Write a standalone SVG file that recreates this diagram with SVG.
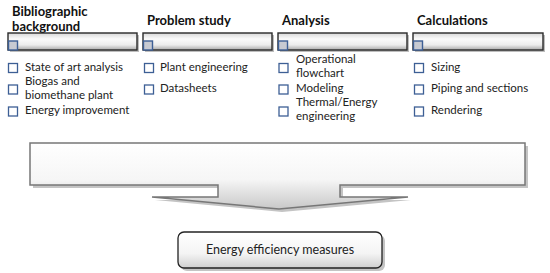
<svg xmlns="http://www.w3.org/2000/svg" width="550" height="273" viewBox="0 0 550 273">
<defs>
<linearGradient id="barG" x1="0" y1="0" x2="0" y2="1">
<stop offset="0" stop-color="#d8d8d8"/>
<stop offset="0.35" stop-color="#fafafa"/>
<stop offset="0.7" stop-color="#ececec"/>
<stop offset="1" stop-color="#a8a8a8"/>
</linearGradient>
<linearGradient id="bigG" x1="0" y1="0" x2="0" y2="1">
<stop offset="0" stop-color="#ffffff"/>
<stop offset="0.55" stop-color="#f6f6f6"/>
<stop offset="1" stop-color="#c8c8c8"/>
</linearGradient>
<linearGradient id="boxG" x1="0" y1="0" x2="0" y2="1">
<stop offset="0" stop-color="#ffffff"/>
<stop offset="0.6" stop-color="#f4f4f4"/>
<stop offset="1" stop-color="#cfcfcf"/>
</linearGradient>
</defs>
<style>
.h{font-family:Lato,"Liberation Sans",sans-serif;font-weight:bold;font-size:13px;fill:#111}
.t{font-family:Lato,"Liberation Sans",sans-serif;font-size:11.5px;fill:#222}
.bar{fill:url(#barG);stroke:#2a2a2a;stroke-width:1.4}
.sh{fill:#bdbdbd}
.mk{fill:#c7cad2;stroke:#3d5f95;stroke-width:1.4}
.cb{fill:#fff;stroke:#3d5f95;stroke-width:1.3}
.big{fill:url(#bigG);stroke:#777;stroke-width:1.5}
.box{fill:url(#boxG);stroke:#222;stroke-width:1.3}
</style>

<g id="col1">
<text class="h" x="12" y="16">Bibliographic</text>
<text class="h" x="12" y="31">background</text>
<rect class="sh" x="10" y="35" width="129" height="17"/>
<rect class="bar" x="8" y="33" width="129" height="17"/>
<rect class="mk" x="8.5" y="41" width="9" height="9"/>
<rect class="cb" x="8.5" y="63.5" width="9" height="9"/>
<text class="t" x="25" y="71">State of art analysis</text>
<rect class="cb" x="8.5" y="85" width="9" height="9"/>
<text class="t" x="25" y="85">Biogas and</text>
<text class="t" x="25" y="99">biomethane plant</text>
<rect class="cb" x="8.5" y="107" width="9" height="9"/>
<text class="t" x="25" y="114">Energy improvement</text>
</g>

<g id="col2">
<text class="h" x="147" y="25">Problem study</text>
<rect class="sh" x="145" y="35" width="129" height="17"/>
<rect class="bar" x="143" y="33" width="129" height="17"/>
<rect class="mk" x="143.5" y="41" width="9" height="9"/>
<rect class="cb" x="144.5" y="63.5" width="9" height="9"/>
<text class="t" x="160" y="71">Plant engineering</text>
<rect class="cb" x="144.5" y="85" width="9" height="9"/>
<text class="t" x="160" y="92">Datasheets</text>
</g>

<g id="col3">
<text class="h" x="282" y="25">Analysis</text>
<rect class="sh" x="280" y="35" width="129" height="17"/>
<rect class="bar" x="278" y="33" width="129" height="17"/>
<rect class="mk" x="278.5" y="41" width="9" height="9"/>
<rect class="cb" x="279" y="63.5" width="9" height="9"/>
<text class="t" x="296" y="63">Operational</text>
<text class="t" x="296" y="76.5">flowchart</text>
<rect class="cb" x="279" y="85" width="9" height="9"/>
<text class="t" x="296" y="92">Modeling</text>
<rect class="cb" x="279" y="107" width="9" height="9"/>
<text class="t" x="296" y="106">Thermal/Energy</text>
<text class="t" x="296" y="119.5">engineering</text>
</g>

<g id="col4">
<text class="h" x="417" y="25">Calculations</text>
<rect class="sh" x="415" y="35" width="130" height="17"/>
<rect class="bar" x="413" y="33" width="130" height="17"/>
<rect class="mk" x="413.5" y="41" width="9" height="9"/>
<rect class="cb" x="414.5" y="63.5" width="9" height="9"/>
<text class="t" x="431" y="71">Sizing</text>
<rect class="cb" x="414.5" y="85" width="9" height="9"/>
<text class="t" x="431" y="92">Piping and sections</text>
<rect class="cb" x="414.5" y="107" width="9" height="9"/>
<text class="t" x="431" y="114">Rendering</text>
</g>

<g id="merge">
<path d="M33,146 H528 V188 H343 V200 H411 L282,212 L155,200 H221 V188 H33 Z" fill="#c4c4c4"/>
<path class="big" d="M30,143 H525 V185 H340 V197 H408 L279,209 L152,197 H218 V185 H30 Z"/>
</g>

<g id="result">
<rect x="181" y="235" width="204" height="36" rx="6" fill="#c4c4c4"/>
<rect class="box" x="178" y="232" width="204" height="36" rx="6"/>
<text class="t" x="280" y="254" text-anchor="middle" style="font-size:12.5px">Energy efficiency measures</text>
</g>

<g id="connectors"></g>
</svg>
